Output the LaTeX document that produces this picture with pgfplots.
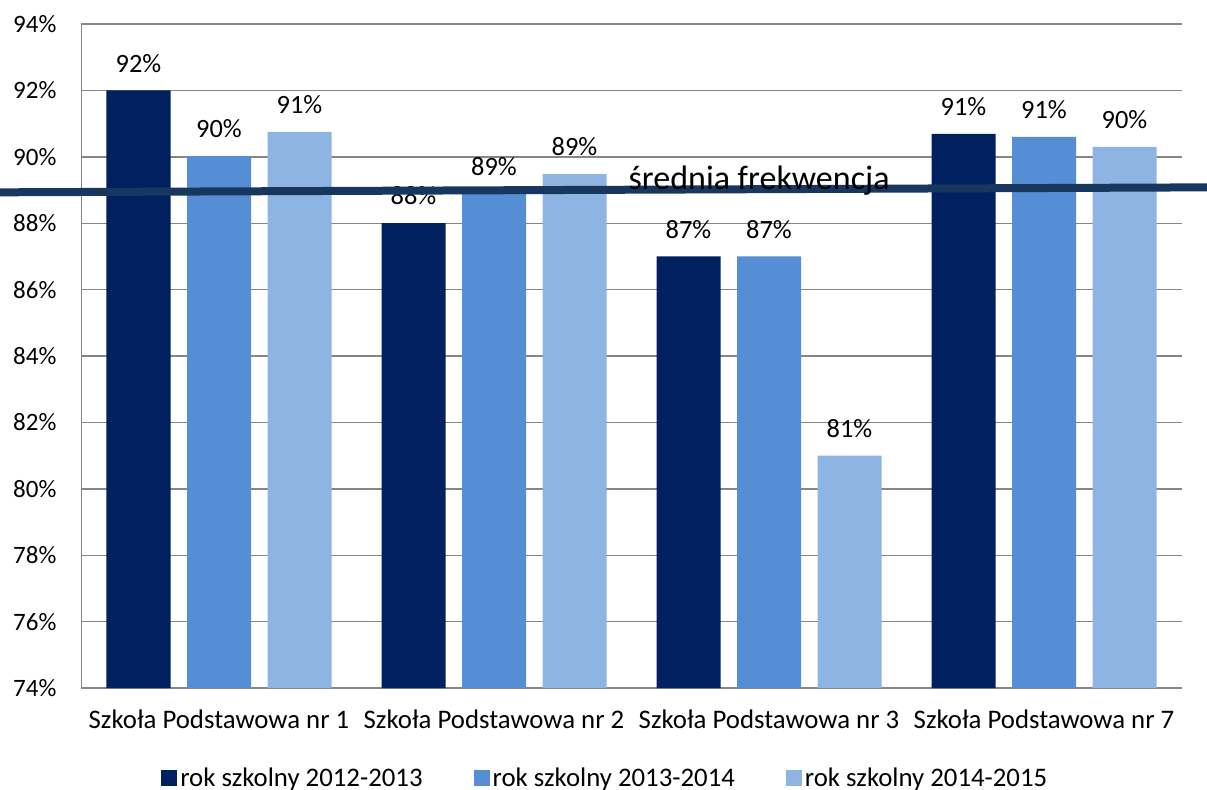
\documentclass[border=0pt]{standalone}
\usepackage{pgfplots}
\pgfplotsset{compat=1.18}
\usepackage{fontspec}
\setmainfont{Carlito}
\definecolor{cA}{RGB}{0,32,96}
\definecolor{cB}{RGB}{85,142,213}
\definecolor{cC}{RGB}{142,180,227}
\definecolor{avg}{RGB}{23,55,94}
\definecolor{gridc}{RGB}{134,134,134}
\begin{document}
\begin{tikzpicture}
\begin{axis}[
  set layers,
  scale only axis, width=550pt, height=332pt,
  ymin=74, ymax=94, ytick={74,76,...,94},
  xmin=-0.5, xmax=3.5, xtick={0,1,2,3},
  xticklabels={Szkoła Podstawowa nr 1, Szkoła Podstawowa nr 2, Szkoła Podstawowa nr 3, Szkoła Podstawowa nr 7},
  ymajorgrids, grid style={gridc, line width=0.7pt},
  axis x line*=bottom, axis y line*=left,
  axis line style={gridc, line width=0.7pt, -},
  major tick length=0pt,
  /pgf/number format/assume math mode=true,
  yticklabel={\pgfmathprintnumber{\tick}\%},
  yticklabel style={xshift=-9pt, font=\fontsize{12.5}{14}\selectfont},
  xticklabel style={yshift=-7.5pt, font=\fontsize{13.4}{15}\selectfont},
  clip=false,
  sq legend/.style={legend image code/.code={\fill[##1] (0pt,-3.7pt) rectangle (8pt,4.3pt);}},
  bars/.style={ybar, bar width=32pt, draw=none,
    nodes near coords={\pgfmathprintnumber[fixed,precision=0]{\pgfplotspointmeta}\%},
    every node near coord/.append style={yshift=5.5pt, black, font=\fontsize{13.2}{15}\selectfont},
    sq legend},
  legend style={at={(0.4766,-0.1367)}, anchor=center, draw=none, fill=none,
    legend columns=3, font=\fontsize{13.4}{15}\selectfont,
    nodes={inner xsep=1.5pt},
    /tikz/every even column/.append style={column sep=24pt}},
]
\addplot[bars, bar shift=-40.25pt, fill=cA, every node near coord/.append style={xshift=-40.25pt}] coordinates {(0,92.0) (1,88.0) (2,87.0) (3,90.69)};
\addplot[bars, bar shift=0pt, fill=cB] coordinates {(0,90.02) (1,88.9) (2,87.0) (3,90.6)};
\addplot[bars, bar shift=40.25pt, fill=cC, every node near coord/.append style={xshift=40.25pt}] coordinates {(0,90.75) (1,89.48) (2,81.0) (3,90.3)};
\legend{rok szkolny 2012-2013, rok szkolny 2013-2014, rok szkolny 2014-2015}
\addplot[sharp plot, no marks, avg, line width=4pt, forget plot, on layer=axis foreground] coordinates {(-0.7964,88.93) (3.5927,89.08)};
\begin{pgfonlayer}{axis foreground}
\node[anchor=base, font=\fontsize{17}{19}\selectfont, inner sep=0pt] at (axis cs:1.964,89.03) {średnia frekwencja};
\end{pgfonlayer}
\end{axis}
\pgfresetboundingbox
\path[use as bounding box] (-40.75pt,-50.5pt) rectangle (562.75pt,344pt);
\end{tikzpicture}
\end{document}
